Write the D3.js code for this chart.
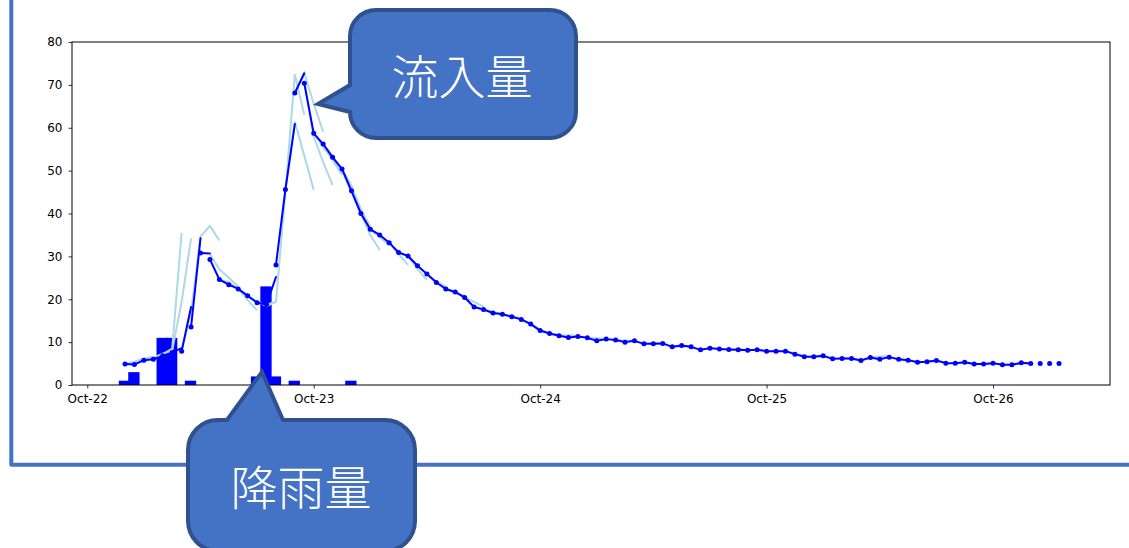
<!DOCTYPE html>
<html>
<head>
<meta charset="utf-8">
<script src="https://cdn.jsdelivr.net/npm/d3@7"></script>
<style>
  html, body { margin: 0; padding: 0; background: #ffffff; }
  svg { display: block; }
</style>
</head>
<body>
<svg id="chart" width="1129" height="548"></svg>
<script>
// ---- data -------------------------------------------------------------
// hour offsets are counted from Oct-22 00:00

// observed hourly inflow, first value at hour 4
const observedStartHour = 4;
const inflowObserved = [
  4.9, 4.8, 5.8, 6.0, 6.8, 7.6, 7.9, 13.5, 30.8, 29.3,
  24.6, 23.4, 22.4, 20.8, 19.2, 18.8, 28.0, 45.6, 68.1, 70.4,
  58.7, 56.2, 53.1, 50.4, 45.3, 40.0, 36.3, 35.0, 33.2, 30.9,
  30.1, 27.8, 25.9, 23.9, 22.4, 21.7, 20.4, 18.2, 17.6, 16.8,
  16.5, 15.9, 15.3, 14.2, 12.7, 12.0, 11.5, 11.1, 11.3, 11.0,
  10.3, 10.7, 10.5, 10.0, 10.3, 9.6, 9.6, 9.7, 8.9, 9.2,
  8.9, 8.2, 8.6, 8.4, 8.3, 8.2, 8.1, 8.2, 7.9, 7.9,
  7.9, 7.2, 6.6, 6.6, 6.8, 6.1, 6.2, 6.2, 5.7, 6.4,
  6.0, 6.5, 6.0, 5.8, 5.3, 5.4, 5.7, 5.1, 5.1, 5.3,
  4.9, 4.9, 5.1, 4.7, 4.7, 5.2, 5.0, 5.0, 5.0, 5.0
];

// one-hour-ahead forecast, first value at hour 5
const forecastStartHour = 5;
const inflowForecast1h = [
  4.8, 5.8, 6.0, 6.8, 7.6, 8.6, 18.2, 34.2, 30.7,
  24.6, 23.4, 22.4, 20.8, 19.2, 18.8, 25.2, 45.6, 60.9, 72.7,
  58.7, 56.2, 53.1, 50.4, 45.3, 40.0, 36.3, 35.0, 33.2, 30.9,
  30.1, 27.8, 25.9, 23.9, 22.4, 21.7, 20.4, 18.2, 17.6, 16.8,
  16.5, 15.9, 15.3, 14.2, 12.7, 12.0, 11.5, 11.1, 11.3, 11.0,
  10.3, 10.7, 10.5, 10.0, 10.3, 9.6, 9.6, 9.7, 8.9, 9.2,
  8.9, 8.2, 8.6, 8.4, 8.3, 8.2, 8.1, 8.2, 7.9, 7.9,
  7.9, 7.2, 6.6, 6.6, 6.8, 6.1, 6.2, 6.2, 5.7, 6.4,
  6.0, 6.5, 6.0, 5.8, 5.3, 5.4, 5.7, 5.1, 5.1, 5.3,
  4.9, 4.9, 5.1, 4.7, 4.7, 5.2, 5.0
];

// multi-hour forecast runs: issue hours and hourly values from that hour on
const runIssueHours = [
  4, 5, 6, 7, 8, 10, 12, 14, 16, 17, 19, 21, 22, 23, 24, 25, 26, 27,
  29, 30, 32, 34, 36, 38, 40, 42, 44, 46, 48,
  50, 53, 56, 59, 62, 65, 68, 71, 74, 77, 80, 83, 86, 89, 92, 95, 98
];
const runValues = [
  [4.9, 5.5, 6.2, 6.6],
  [4.8, 5.6, 6.3, 7.0],
  [5.8, 6.4, 7.3, 8.0],
  [6.0, 7.2, 8.5, 35.5],
  [6.8, 8.0, 19.4, 34.2],
  [7.9, 17.0, 34.6, 37.1, 33.7],
  [30.8, 30.5, 27.0, 25.0, 23.0],
  [24.6, 24.0, 22.5, 21.0],
  [22.4, 19.8, 17.4],
  [20.8, 19.5, 18.4, 19.4],
  [18.7, 19.4, 45.0, 72.5, 63.0],
  [45.6, 61.4, 53.5, 45.5],
  [68.1, 72.8, 65.6, 59.1],
  [70.4, 57.9, 52.0, 46.6],
  [58.7, 55.5, 52.5, 49.0],
  [56.2, 53.5, 50.0, 45.0],
  [53.1, 50.0, 45.0, 40.0],
  [50.4, 46.5, 41.0, 37.0],
  [40.0, 35.0, 31.5],
  [36.3, 34.5, 32.5],
  [33.2, 30.5, 28.0],
  [30.1, 27.0, 24.5],
  [25.9, 24.2, 22.9],
  [22.4, 21.5, 20.8],
  [20.4, 19.4, 18.3],
  [17.6, 17.0, 16.6],
  [16.5, 16.0, 15.6],
  [15.3, 14.3, 13.0],
  [12.7, 12.1, 11.7],
  [11.5, 11.6, 11.5],
  [11.0, 10.9, 10.8],
  [10.5, 10.4, 10.3],
  [9.6, 9.8, 9.7],
  [8.9, 9.1, 9.0],
  [8.2, 8.5, 8.5],
  [8.3, 8.3, 8.2],
  [8.2, 8.0, 7.9],
  [7.9, 7.4, 6.8],
  [6.6, 6.7, 6.4],
  [6.2, 6.1, 5.9],
  [6.4, 6.6, 6.8],
  [6.0, 5.8, 5.5],
  [5.4, 5.6, 5.3],
  [5.1, 5.2, 5.0],
  [4.9, 5.0, 4.8],
  [4.7, 5.0, 5.1]
];

// hourly rainfall (mm)
const rainHours = [4, 5, 8, 9, 11, 18, 19, 20, 22, 28];
const rainfall  = [1, 3, 11, 11, 1, 2, 23, 2, 1, 1];

// axes
const yTickValues = [0, 10, 20, 30, 40, 50, 60, 70, 80];
const xTickDayOffsets = [0, 1, 2, 3, 4];
const xTickLabels = ["Oct-22", "Oct-23", "Oct-24", "Oct-25", "Oct-26"];

// callout captions
const inflowCaption = "流入量";
const rainCaption = "降雨量";

// ---- drawing ------------------------------------------------------------
const svg = d3.select("#chart");
const plot = { left: 72, right: 1110, top: 42, bottom: 385 };

const origin = new Date(2019, 9, 22, 0, 0, 0);
const atHour = h => new Date(origin.getTime() + h * 3600 * 1000);

const x = d3.scaleTime()
  .domain([atHour(-1.62), atHour(108.4)])
  .range([plot.left, plot.right]);
const y = d3.scaleLinear()
  .domain([0, 80])
  .range([plot.bottom, plot.top]);

const blue = "#0000ff";
const light = "#add8e6";

// outer frame (left and bottom edges)
svg.append("path")
  .attr("d", "M11.3,-5 V464.7 H1135")
  .attr("fill", "none")
  .attr("stroke", "#4472c4")
  .attr("stroke-width", 4)
  .attr("stroke-linejoin", "round");

const g = svg.append("g");

// rainfall bars
g.selectAll("rect.rain")
  .data(rainHours.map((h, i) => ({ h, v: rainfall[i] })))
  .join("rect")
  .attr("class", "rain")
  .attr("x", d => x(atHour(d.h - 0.66)))
  .attr("width", d => x(atHour(d.h + 0.54)) - x(atHour(d.h - 0.66)))
  .attr("y", d => y(d.v))
  .attr("height", d => y(0) - y(d.v))
  .attr("fill", blue);

// forecast runs
const line = d3.line()
  .x(d => x(atHour(d.h)))
  .y(d => y(d.v));

runIssueHours.forEach((h0, i) => {
  const pts = runValues[i].map((v, k) => ({ h: h0 + k, v }));
  g.append("path")
    .attr("d", line(pts))
    .attr("fill", "none")
    .attr("stroke", light)
    .attr("stroke-width", 2);
});

// one-hour-ahead forecast segments, each from the previous observation
const obsAt = h => inflowObserved[h - observedStartHour];
inflowForecast1h.forEach((v, i) => {
  const h = forecastStartHour + i;
  g.append("path")
    .attr("d", line([{ h: h - 1, v: obsAt(h - 1) }, { h, v }]))
    .attr("fill", "none")
    .attr("stroke", blue)
    .attr("stroke-width", 2)
    .attr("stroke-linecap", "round");
});

// observed points
g.selectAll("circle.obs")
  .data(inflowObserved.map((v, i) => ({ h: observedStartHour + i, v })))
  .join("circle")
  .attr("class", "obs")
  .attr("cx", d => x(atHour(d.h)))
  .attr("cy", d => y(d.v))
  .attr("r", 2.5)
  .attr("fill", blue);

// axes box
svg.append("rect")
  .attr("x", plot.left)
  .attr("y", plot.top)
  .attr("width", plot.right - plot.left)
  .attr("height", plot.bottom - plot.top)
  .attr("fill", "none")
  .attr("stroke", "#000")
  .attr("stroke-width", 1);

const axisFont = "DejaVu Sans, sans-serif";

const yAxis = svg.append("g")
  .attr("transform", `translate(${plot.left},0)`)
  .call(d3.axisLeft(y).tickValues(yTickValues).tickSize(3.5).tickPadding(6)
    .tickFormat(d3.format("d")));
const xAxis = svg.append("g")
  .attr("transform", `translate(0,${plot.bottom})`)
  .call(d3.axisBottom(x)
    .tickValues(xTickDayOffsets.map(d => atHour(d * 24)))
    .tickFormat((d, i) => xTickLabels[i])
    .tickSize(3.5).tickPadding(5.5));

[yAxis, xAxis].forEach(a => {
  a.select(".domain").remove();
  a.selectAll(".tick line").attr("stroke", "#000").attr("stroke-width", 0.8);
  a.selectAll(".tick text")
    .attr("fill", "#000")
    .style("font-family", axisFont)
    .style("font-size", "12px");
});

// callouts
const calloutFill = "#4472c4";
const calloutStroke = "#2f528f";
const cjkFont = "'Noto Sans CJK JP', 'Noto Sans CJK SC', sans-serif";

function leftPointerCallout(x0, y0, x1, y1, r, tip, attachTop) {
  return `M${x0 + r},${y0} H${x1 - r} A${r},${r} 0 0 1 ${x1},${y0 + r}` +
    ` V${y1 - r} A${r},${r} 0 0 1 ${x1 - r},${y1} H${x0 + r}` +
    ` A${r},${r} 0 0 1 ${x0},${y1 - r} L${tip[0]},${tip[1]} L${x0},${attachTop}` +
    ` V${y0 + r} A${r},${r} 0 0 1 ${x0 + r},${y0} Z`;
}
function topPointerCallout(x0, y0, x1, y1, r, tip, a, b) {
  return `M${x0 + r},${y0} H${a} L${tip[0]},${tip[1]} L${b},${y0} H${x1 - r}` +
    ` A${r},${r} 0 0 1 ${x1},${y0 + r} V${y1 - r} A${r},${r} 0 0 1 ${x1 - r},${y1}` +
    ` H${x0 + r} A${r},${r} 0 0 1 ${x0},${y1 - r} V${y0 + r} A${r},${r} 0 0 1 ${x0 + r},${y0} Z`;
}

svg.append("path")
  .attr("d", leftPointerCallout(350, 10, 576, 138, 26, [318, 104], 85))
  .attr("fill", calloutFill)
  .attr("stroke", calloutStroke)
  .attr("stroke-width", 4)
  .attr("stroke-linejoin", "miter");
svg.append("text")
  .attr("x", 462).attr("y", 73)
  .attr("text-anchor", "middle")
  .attr("dominant-baseline", "central")
  .attr("fill", "#ffffff")
  .style("font-family", cjkFont)
  .style("font-weight", 300)
  .style("font-size", "47px")
  .text(inflowCaption);

svg.append("path")
  .attr("d", topPointerCallout(188, 420, 415, 551, 30, [262, 372], 227, 283))
  .attr("fill", calloutFill)
  .attr("stroke", calloutStroke)
  .attr("stroke-width", 4)
  .attr("stroke-linejoin", "miter");
svg.append("text")
  .attr("x", 301).attr("y", 484)
  .attr("text-anchor", "middle")
  .attr("dominant-baseline", "central")
  .attr("fill", "#ffffff")
  .style("font-family", cjkFont)
  .style("font-weight", 300)
  .style("font-size", "47px")
  .text(rainCaption);
</script>
</body>
</html>
